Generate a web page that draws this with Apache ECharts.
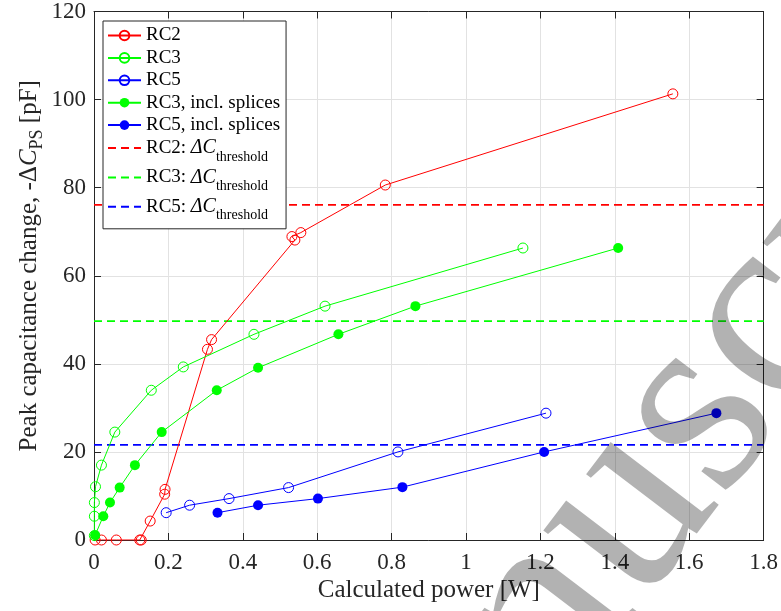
<!DOCTYPE html>
<html><head><meta charset="utf-8">
<script src="https://cdn.jsdelivr.net/npm/echarts@6/dist/echarts.min.js"></script>
<style>html,body{margin:0;padding:0;background:#fff}#c{width:781px;height:611px}</style>
</head><body><div id="c"></div>
<script>
// ---- data ----
const rc2X = [0.003, 0.02, 0.06, 0.123, 0.127, 0.151, 0.190, 0.191, 0.305, 0.316, 0.540, 0.532, 0.556, 0.783, 1.556];
const rc2Y = [0, 0, 0, 0, 0, 4.3, 10.4, 11.5, 43.3, 45.5, 68.1, 68.9, 69.8, 80.6, 101.3];
const rc3X = [0.001, 0.001, 0.001, 0.004, 0.020, 0.056, 0.154, 0.240, 0.430, 0.621, 1.153];
const rc3Y = [1.0, 5.4, 8.5, 12.1, 17.0, 24.5, 34.0, 39.3, 46.7, 53.1, 66.3];
const rc5X = [0.194, 0.257, 0.363, 0.523, 0.817, 1.215];
const rc5Y = [6.2, 7.9, 9.4, 11.9, 20.0, 28.8];
const rc3sX = [0.003, 0.025, 0.043, 0.069, 0.110, 0.182, 0.330, 0.441, 0.657, 0.864, 1.409];
const rc3sY = [1.1, 5.4, 8.5, 11.9, 17.0, 24.5, 34.0, 39.1, 46.7, 53.1, 66.3];
const rc5sX = [0.332, 0.441, 0.602, 0.829, 1.210, 1.673];
const rc5sY = [6.2, 7.9, 9.4, 12.0, 20.0, 28.8];
const thresholds = [76.1, 49.7, 21.6];   // RC2, RC3, RC5
const xRange = [0, 1.8];
const yRange = [0, 120];
const xStep = 0.2, yStep = 20;

const FONT = 'Liberation Serif';
const AX = '#262626';
const RED = '#ff0000', GREEN = '#00ff00', BLUE = '#0000ff';

function zip(xs, ys) { return xs.map((x, i) => [x, ys[i]]); }

function openSeries(name, xs, ys, c) {
  return { name, type: 'line', data: zip(xs, ys), symbol: 'circle', symbolSize: 10,
    itemStyle: { color: 'rgba(255,255,255,0)', borderColor: c, borderWidth: 1 },
    lineStyle: { color: c, width: 1 }, emphasis: { disabled: true }, z: 3 };
}
function filledSeries(name, xs, ys, c) {
  return { name, type: 'line', data: zip(xs, ys), symbol: 'circle', symbolSize: 10,
    itemStyle: { color: c, borderColor: c, borderWidth: 0 },
    lineStyle: { color: c, width: 1 }, emphasis: { disabled: true }, z: 3 };
}
function thrSeries(name, v, c) {
  return { name, type: 'line', data: [[xRange[0], v], [xRange[1], v]], symbol: 'none',
    itemStyle: { color: c }, lineStyle: { color: c, width: 1.6, type: [8, 5] },
    emphasis: { disabled: true }, z: 2 };
}

const thrNames = ['RC2: thr', 'RC3: thr', 'RC5: thr'];
const series = [
  openSeries('RC2', rc2X, rc2Y, RED),
  openSeries('RC3', rc3X, rc3Y, GREEN),
  openSeries('RC5', rc5X, rc5Y, BLUE),
  filledSeries('RC3, incl. splices', rc3sX, rc3sY, GREEN),
  filledSeries('RC5, incl. splices', rc5sX, rc5sY, BLUE),
  thrSeries(thrNames[0], thresholds[0], RED),
  thrSeries(thrNames[1], thresholds[1], GREEN),
  thrSeries(thrNames[2], thresholds[2], BLUE)
];

const legRich = {
  n: { fontFamily: FONT, fontSize: 19, color: '#000', verticalAlign: 'middle' },
  i: { fontFamily: FONT, fontSize: 20, fontStyle: 'italic', color: '#000', verticalAlign: 'middle' },
  s: { fontFamily: FONT, fontSize: 14, color: '#000', verticalAlign: 'middle', padding: [18, 0, 0, 0] }
};

const chart = echarts.init(document.getElementById('c'), null, { renderer: 'canvas' });
chart.setOption({
  animation: false,
  backgroundColor: '#fff',
  grid: { left: 94, right: 14, top: 10, bottom: 71, containLabel: false },
  xAxis: [{
    type: 'value', min: xRange[0], max: xRange[1], interval: xStep,
    name: 'Calculated power [W]', nameLocation: 'middle', nameGap: 38, nameMoveOverlap: false,
    nameTextStyle: { fontFamily: FONT, fontSize: 25, color: AX },
    axisLine: { onZero: false, lineStyle: { color: AX, width: 1 } },
    axisTick: { inside: true, length: 7, lineStyle: { color: AX } },
    axisLabel: { fontFamily: FONT, fontSize: 23, color: AX, margin: 11, showMinLabel: true, showMaxLabel: true,
      formatter: v => String(+v.toFixed(1)) },
    splitLine: { show: true, lineStyle: { color: '#e2e2e2', width: 1 } }
  }, {
    type: 'value', position: 'top', min: xRange[0], max: xRange[1], interval: xStep,
    axisLine: { onZero: false, lineStyle: { color: AX, width: 1 } },
    axisTick: { inside: true, length: 7, lineStyle: { color: AX } },
    axisLabel: { show: false }, splitLine: { show: false }
  }],
  yAxis: [{
    type: 'value', min: yRange[0], max: yRange[1], interval: yStep,
    name: '{n|Peak capacitance change, -Δ}{i|C}{s|PS}{n| [pF]}', nameLocation: 'middle', nameGap: 48,
    nameMoveOverlap: false,
    nameTextStyle: { fontFamily: FONT, fontSize: 25, color: AX, padding: [0, 0, 0, 20], rich: {
      n: { fontFamily: FONT, fontSize: 25, color: AX, verticalAlign: 'middle' },
      i: { fontFamily: FONT, fontSize: 25, fontStyle: 'italic', color: AX, verticalAlign: 'middle' },
      s: { fontFamily: FONT, fontSize: 18, color: AX, verticalAlign: 'middle', padding: [16, 0, 0, 0] }
    } },
    axisLine: { onZero: false, lineStyle: { color: AX, width: 1 } },
    axisTick: { inside: true, length: 7, lineStyle: { color: AX } },
    axisLabel: { fontFamily: FONT, fontSize: 23, color: AX, margin: 8, showMinLabel: true, showMaxLabel: true },
    splitLine: { show: true, lineStyle: { color: '#e2e2e2', width: 1 } }
  }, {
    type: 'value', position: 'right', min: yRange[0], max: yRange[1], interval: yStep,
    axisLine: { onZero: false, lineStyle: { color: AX, width: 1 } },
    axisTick: { inside: true, length: 7, lineStyle: { color: AX } },
    axisLabel: { show: false }, splitLine: { show: false }
  }],
  legend: {
    orient: 'vertical', left: 103, top: 21, padding: [5, 6, 6, 4], itemGap: 3.4,
    itemWidth: 33, itemHeight: 12, backgroundColor: '#fff', borderColor: AX, borderWidth: 1,
    borderRadius: 0, selectedMode: false,
    data: series.map(s => thrNames.indexOf(s.name) >= 0
      ? { name: s.name, itemStyle: { color: 'rgba(0,0,0,0)', borderWidth: 0, opacity: 0 } }
      : { name: s.name }),
    textStyle: { fontFamily: FONT, fontSize: 19, color: '#000', rich: legRich },
    formatter: name => {
      const k = thrNames.indexOf(name);
      if (k >= 0) return '{n|RC' + [2, 3, 5][k] + ': }{i|ΔC}{s|threshold}';
      return '{n|' + name + '}';
    }
  },
  graphic: [{
    type: 'text', x: 656, y: 470, rotation: 0.92, z: 100, silent: true,
    style: { text: 'Manuscript', font: '270px "Liberation Serif"', fill: 'rgba(0,0,0,0.3)',
      align: 'center', verticalAlign: 'middle' }
  }],
  series
});
</script>
</body></html>
